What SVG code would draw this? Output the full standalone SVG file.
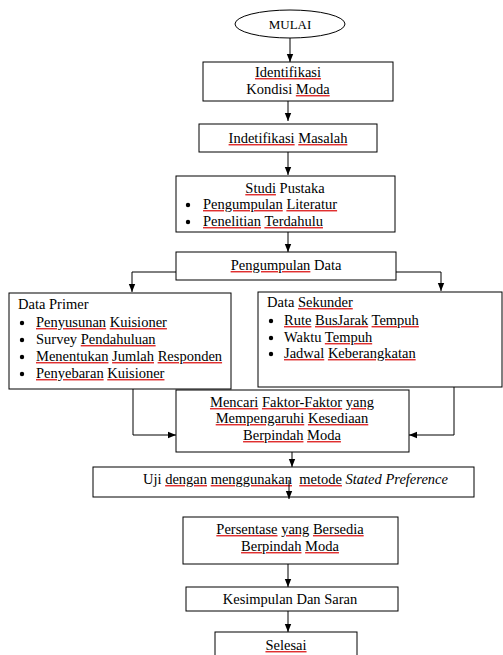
<svg xmlns="http://www.w3.org/2000/svg" width="503" height="655" viewBox="0 0 503 655">
<style>
  .box { fill: #fff; stroke: #000; stroke-width: 1; }
  .t { font-family: "Liberation Serif", "Times New Roman", serif; font-size: 14.5px; fill: #000; }
  .c { text-anchor: middle; }
  .s { text-decoration: underline; fill: #e03030; }
  .s > tspan { fill: #000; }
  .ln { fill: none; stroke: #000; stroke-width: 1; }
  .arr { marker-end: url(#ah); }
  .dot { fill: #000; }
</style>
<defs>
  <marker id="ah" viewBox="0 0 8 8" refX="8" refY="4" markerWidth="8" markerHeight="8" markerUnits="userSpaceOnUse" orient="auto">
    <path d="M0,0.8 L8,4 L0,7.2 Z" fill="#000"/>
  </marker>
</defs>
<rect width="503" height="655" fill="#fff"/>

<g id="connectors">
  <path class="ln arr" d="M290,38 V62"/>
  <path class="ln arr" d="M288,101 V121"/>
  <path class="ln arr" d="M288,152 V175"/>
  <path class="ln arr" d="M288,232 V252"/>
  <path class="ln arr" d="M176,272 H132 V292"/>
  <path class="ln arr" d="M396,272 H441 V291"/>
  <path class="ln arr" d="M133,389 V435 H176"/>
  <path class="ln arr" d="M454,387 V435 H409"/>
  <path class="ln arr" d="M292,452 V467"/>
  <path class="ln arr" d="M288,564 V587"/>
  <path class="ln arr" d="M288,611 V632"/>
</g>

<g id="mulai">
  <ellipse class="box" cx="290" cy="24" rx="55" ry="14"/>
  <text class="t c" x="290" y="29" style="font-size:13px">MULAI</text>
</g>

<g id="identifikasi">
  <rect class="box" x="203" y="62" width="190" height="39"/>
  <text class="t c" x="288" y="77"><tspan class="s"><tspan>Identifikasi</tspan></tspan></text>
  <text class="t c" x="288" y="94">Kondisi <tspan class="s"><tspan>Moda</tspan></tspan></text>
</g>

<g id="masalah">
  <rect class="box" x="199" y="124" width="178" height="28"/>
  <text class="t c" x="288" y="143"><tspan class="s"><tspan>Indetifikasi</tspan></tspan> <tspan class="s"><tspan>Masalah</tspan></tspan></text>
</g>

<g id="studi">
  <rect class="box" x="176" y="176" width="219" height="56"/>
  <text class="t c" x="285" y="193"><tspan class="s"><tspan>Studi</tspan></tspan> Pustaka</text>
  <circle class="dot" cx="188" cy="205" r="2.2"/>
  <circle class="dot" cx="188" cy="222" r="2.2"/>
  <text class="t" x="203" y="209"><tspan class="s"><tspan>Pengumpulan</tspan></tspan> <tspan class="s"><tspan>Literatur</tspan></tspan></text>
  <text class="t" x="203" y="226"><tspan class="s"><tspan>Penelitian</tspan></tspan> <tspan class="s"><tspan>Terdahulu</tspan></tspan></text>
</g>

<g id="pengumpulan">
  <rect class="box" x="176" y="252" width="220" height="28"/>
  <text class="t c" x="286" y="270"><tspan class="s"><tspan>Pengumpulan</tspan></tspan> Data</text>
</g>

<g id="primer">
  <rect class="box" x="9" y="293" width="222" height="96"/>
  <text class="t" x="18" y="309">Data Primer</text>
  <circle class="dot" cx="22" cy="323" r="2.2"/>
  <circle class="dot" cx="22" cy="340" r="2.2"/>
  <circle class="dot" cx="22" cy="357" r="2.2"/>
  <circle class="dot" cx="22" cy="374" r="2.2"/>
  <text class="t" x="36" y="327"><tspan class="s"><tspan>Penyusunan</tspan></tspan> <tspan class="s"><tspan>Kuisioner</tspan></tspan></text>
  <text class="t" x="36" y="344">Survey <tspan class="s"><tspan>Pendahuluan</tspan></tspan></text>
  <text class="t" x="36" y="361"><tspan class="s"><tspan>Menentukan</tspan></tspan> <tspan class="s"><tspan>Jumlah</tspan></tspan> <tspan class="s"><tspan>Responden</tspan></tspan></text>
  <text class="t" x="36" y="378"><tspan class="s"><tspan>Penyebaran</tspan></tspan> <tspan class="s"><tspan>Kuisioner</tspan></tspan></text>
</g>

<g id="sekunder">
  <rect class="box" x="258" y="292" width="244" height="95"/>
  <text class="t" x="267" y="307">Data <tspan class="s"><tspan>Sekunder</tspan></tspan></text>
  <circle class="dot" cx="271" cy="321" r="2.2"/>
  <circle class="dot" cx="271" cy="338" r="2.2"/>
  <circle class="dot" cx="271" cy="354" r="2.2"/>
  <text class="t" x="284" y="325"><tspan class="s"><tspan>Rute</tspan></tspan> <tspan class="s"><tspan>BusJarak</tspan></tspan> <tspan class="s"><tspan>Tempuh</tspan></tspan></text>
  <text class="t" x="284" y="342">Waktu <tspan class="s"><tspan>Tempuh</tspan></tspan></text>
  <text class="t" x="284" y="358"><tspan class="s"><tspan>Jadwal</tspan></tspan> <tspan class="s"><tspan>Keberangkatan</tspan></tspan></text>
</g>

<g id="mencari">
  <rect class="box" x="176" y="390" width="233" height="62"/>
  <text class="t c" x="292" y="407"><tspan class="s"><tspan>Mencari</tspan></tspan> <tspan class="s"><tspan>Faktor-Faktor</tspan></tspan> <tspan class="s"><tspan>yang</tspan></tspan></text>
  <text class="t c" x="292" y="423"><tspan class="s"><tspan>Mempengaruhi</tspan></tspan> <tspan class="s"><tspan>Kesediaan</tspan></tspan></text>
  <text class="t c" x="292" y="440"><tspan class="s"><tspan>Berpindah</tspan></tspan> <tspan class="s"><tspan>Moda</tspan></tspan></text>
</g>

<g id="uji">
  <rect class="box" x="93" y="467" width="381" height="30"/>
  <text class="t" x="143" y="484" xml:space="preserve">Uji <tspan class="s"><tspan>dengan</tspan></tspan> <tspan class="s"><tspan>menggunakan</tspan></tspan>  <tspan class="s"><tspan>metode</tspan></tspan> <tspan font-style="italic">Stated Preference</tspan></text>
</g>

<g id="connectors-2">
  <path class="ln arr" d="M289,480 V499"/>
</g>

<g id="persentase">
  <rect class="box" x="183" y="517" width="215" height="47"/>
  <text class="t c" x="290" y="534"><tspan class="s"><tspan>Persentase</tspan></tspan> <tspan class="s"><tspan>yang</tspan></tspan> <tspan class="s"><tspan>Bersedia</tspan></tspan></text>
  <text class="t c" x="290" y="551"><tspan class="s"><tspan>Berpindah</tspan></tspan> <tspan class="s"><tspan>Moda</tspan></tspan></text>
</g>

<g id="kesimpulan">
  <rect class="box" x="186" y="587" width="212" height="24"/>
  <text class="t c" x="290" y="604">Kesimpulan Dan Saran</text>
</g>

<g id="selesai">
  <rect class="box" x="215" y="632" width="142" height="30"/>
  <text class="t c" x="286" y="650"><tspan class="s"><tspan>Selesai</tspan></tspan></text>
</g>
</svg>
